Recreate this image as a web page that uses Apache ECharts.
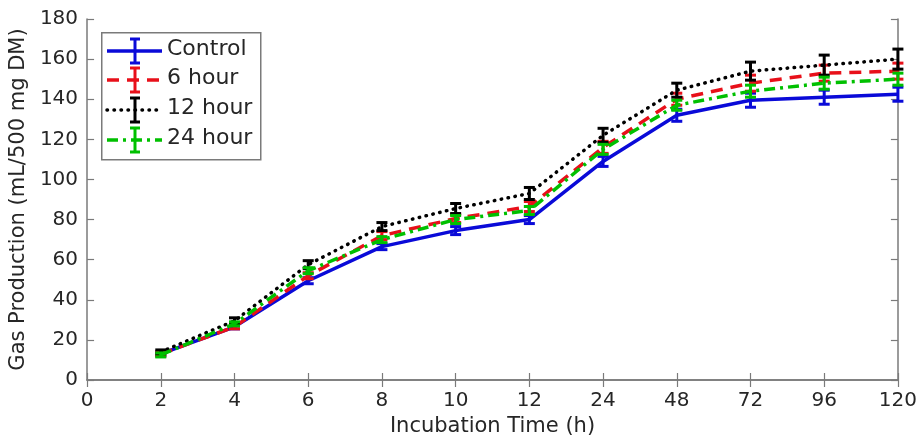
<!DOCTYPE html>
<html>
<head>
<meta charset="utf-8">
<script src="https://cdn.jsdelivr.net/npm/echarts@6/dist/echarts.min.js"></script>
<style>
html,body{margin:0;padding:0;background:#fff;}
#chart{width:920px;height:444px;}
</style>
</head>
<body>
<div id="chart"></div>
<script>
// ---- data ----
const categories = ['0','2','4','6','8','10','12','24','48','72','96','120'];
const seriesNames = ['Control','6 hour','12 hour','24 hour'];
const controlVals = ['-', 13, 26.5, 49.5, 66.5, 74.5, 80, 109, 132, 139.5, 141, 142.5];
const hour6Vals   = ['-', 13, 26.5, 52, 72, 80.5, 86.5, 116, 140, 148, 153, 154];
const hour12Vals  = ['-', 14, 29.5, 57.5, 76.5, 85.5, 93, 122, 144.5, 154, 157, 160];
const hour24Vals  = ['-', 12.5, 28, 54.5, 70, 80, 84.5, 115, 137, 144, 148, 150];
const controlErr = [0, 1, 1, 1.5, 1.5, 2, 2, 2.5, 3, 3.5, 3.5, 3.5];
const hour6Err   = [0, 1, 1, 1.5, 2, 2, 2.5, 3, 3, 4, 4, 4];
const hour12Err  = [0, 1, 1.5, 2, 2, 2.5, 3, 3.5, 3.5, 4.5, 5, 5];
const hour24Err  = [0, 1, 1, 1.5, 1.5, 2, 2, 2.5, 2.5, 3, 3, 3];
const yTicks = [0, 20, 40, 60, 80, 100, 120, 140, 160, 180];

// ---- styles ----
const FONT = 'DejaVu Sans';
const TXT = '#262626';
const AX = '#7a7a7a';
const styles = [
  {color:'#0a0ad8', type:'solid', cap:'butt'},
  {color:'#e8101a', type:[12,8], cap:'butt'},
  {color:'#000000', type:[0.5,6.5], cap:'round'},
  {color:'#00c000', type:[11,5,3,5], cap:'butt'}
];
const valsList = [controlVals, hour6Vals, hour12Vals, hour24Vals];
const errList = [controlErr, hour6Err, hour12Err, hour24Err];

const chart = echarts.init(document.getElementById('chart'), null, {renderer:'canvas'});

const series = [];
valsList.forEach((vals, si) => {
  const st = styles[si];
  series.push({
    name: seriesNames[si],
    type: 'line',
    data: vals,
    showSymbol: false,
    symbol: 'none',
    connectNulls: false,
    lineStyle: {color: st.color, width: 3.5, type: st.type, cap: st.cap},
    itemStyle: {color: st.color},
    z: 2 + si,
    animation: false
  });
  const ebData = [];
  vals.forEach((v, i) => {
    if (typeof v === 'number') ebData.push([i, v - errList[si][i], v + errList[si][i]]);
  });
  series.push({
    name: seriesNames[si] + ' err',
    type: 'custom',
    data: ebData,
    encode: {x: 0, y: [1, 2]},
    z: 2 + si,
    animation: false,
    renderItem: function (params, api) {
      const x = api.value(0);
      const lo = api.coord([x, api.value(1)]);
      const hi = api.coord([x, api.value(2)]);
      const hw = 5.5;
      const s = {stroke: st.color, lineWidth: 3};
      return {
        type: 'group',
        children: [
          {type:'line', shape:{x1:lo[0], y1:lo[1], x2:hi[0], y2:hi[1]}, style:s},
          {type:'line', shape:{x1:lo[0]-hw, y1:lo[1], x2:lo[0]+hw, y2:lo[1]}, style:s},
          {type:'line', shape:{x1:hi[0]-hw, y1:hi[1], x2:hi[0]+hw, y2:hi[1]}, style:s}
        ]
      };
    }
  });
});

// legend (drawn as graphic)
const legendGraphic = [{
  type:'rect', left:101, top:32, z:100,
  shape:{width:159, height:127},
  style:{fill:'#fff', stroke:AX, lineWidth:1.5}
}];
const legendY = [51, 80, 110, 140];
seriesNames.forEach((nm, si) => {
  const st = styles[si];
  const y = legendY[si];
  const dash = st.type === 'solid' ? null : st.type;
  legendGraphic.push({
    type:'line', z:101, shape:{x1:107, y1:y, x2:162, y2:y},
    style:{stroke:st.color, lineWidth:3.5, lineDash:dash, lineCap:st.cap}
  });
  const s = {stroke:st.color, lineWidth:3};
  legendGraphic.push({type:'line', z:101, shape:{x1:135, y1:y-12, x2:135, y2:y+12}, style:s});
  legendGraphic.push({type:'line', z:101, shape:{x1:130, y1:y-12, x2:140, y2:y-12}, style:s});
  legendGraphic.push({type:'line', z:101, shape:{x1:130, y1:y+12, x2:140, y2:y+12}, style:s});
  legendGraphic.push({
    type:'text', z:101, left:167, top:y-13,
    style:{text:nm, fill:TXT, font:'22px "DejaVu Sans"', textVerticalAlign:'top'}
  });
});

const option = {
  backgroundColor:'#fff',
  animation:false,
  grid:{left:87, right:19, top:19, bottom:64, containLabel:false},
  xAxis:[{
    type:'category', data:categories, boundaryGap:false, position:'bottom',
    name:'Incubation Time (h)', nameLocation:'middle', nameGap:36,
    nameTextStyle:{fontFamily:FONT, fontSize:21, color:TXT},
    axisLine:{show:true, lineStyle:{color:AX, width:1.5}},
    axisTick:{show:true, inside:true, length:7, lineStyle:{color:AX, width:1.2}},
    axisLabel:{show:true, interval:0, margin:11, fontFamily:FONT, fontSize:20, color:TXT},
    splitLine:{show:false}
  },{
    type:'category', data:categories, boundaryGap:false, position:'top',
    axisLine:{show:true, lineStyle:{color:AX, width:1.5}},
    axisTick:{show:true, inside:true, length:7, interval:0, lineStyle:{color:AX, width:1.2}},
    axisLabel:{show:false}, splitLine:{show:false}
  }],
  yAxis:[{
    type:'value', min:0, max:180, interval:20, position:'left',
    name:'Gas Production (mL/500 mg DM)', nameLocation:'middle', nameGap:49,
    nameTextStyle:{fontFamily:FONT, fontSize:21, color:TXT},
    axisLine:{show:true, lineStyle:{color:AX, width:1.5}},
    axisTick:{show:true, inside:true, length:7, lineStyle:{color:AX, width:1.2}},
    axisLabel:{show:true, margin:9, fontFamily:FONT, fontSize:20, color:TXT,
      formatter:function(v){ return yTicks.indexOf(v) >= 0 ? String(v) : ''; }},
    splitLine:{show:false}
  },{
    type:'value', min:0, max:180, interval:20, position:'right',
    axisLine:{show:true, lineStyle:{color:AX, width:1.5}},
    axisTick:{show:true, inside:true, length:7, lineStyle:{color:AX, width:1.2}},
    axisLabel:{show:false}, splitLine:{show:false}
  }],
  series: series,
  graphic: legendGraphic
};
chart.setOption(option);
</script>
</body>
</html>
